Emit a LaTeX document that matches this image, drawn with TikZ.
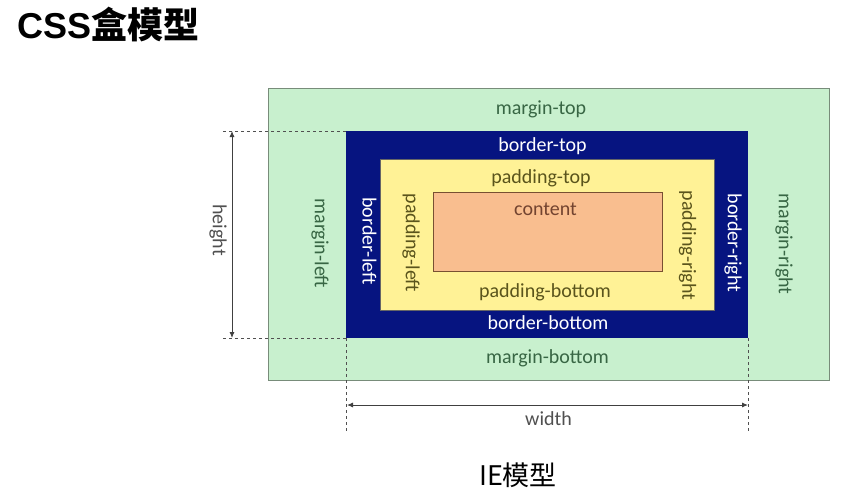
\documentclass[tikz,border=0pt]{standalone}
\usepackage{fontspec}
\setmainfont{Carlito}
\newfontfamily\cjkfont{Noto Sans CJK SC}
\newfontfamily\titlelatin{Liberation Sans}
\usetikzlibrary{arrows.meta}

\definecolor{marginfill}{RGB}{200,240,206}
\definecolor{marginline}{RGB}{120,140,122}
\definecolor{margintext}{RGB}{56,102,68}
\definecolor{bordernavy}{RGB}{6,20,128}
\definecolor{paddingfill}{RGB}{255,242,150}
\definecolor{paddingtext}{RGB}{90,84,28}
\definecolor{contentfill}{RGB}{249,190,143}
\definecolor{contentline}{RGB}{120,80,50}
\definecolor{contenttext}{RGB}{115,68,48}
\definecolor{dimgray}{RGB}{80,80,80}

\tikzset{
  lbl/.style={font=\fontsize{20}{22}\selectfont, inner sep=0pt},
  mlbl/.style={lbl, text=margintext},
  blbl/.style={lbl, text=white},
  plbl/.style={lbl, text=paddingtext},
  clbl/.style={lbl, text=contenttext},
  dimlbl/.style={lbl, text=dimgray},
  guide/.style={dimgray, line width=0.9pt, dash pattern=on 3pt off 3pt},
  dimarrow/.style={black!75, line width=0.9pt, {Latex[length=6pt,width=5pt]}-{Latex[length=6pt,width=5pt]}},
}

\begin{document}
\begin{tikzpicture}[x=1pt,y=-1pt]
\useasboundingbox[fill=white] (0,0) rectangle (853,498);

% box corners
\coordinate (mTL) at (268,88);  \coordinate (mBR) at (829,380);
\coordinate (bTL) at (346,131); \coordinate (bBR) at (748,338);
\coordinate (bTR) at (748,131); \coordinate (bBL) at (346,338);
\coordinate (pTL) at (380,159); \coordinate (pBR) at (714,310);
\coordinate (cTL) at (433,192); \coordinate (cBR) at (662,271);

% nested boxes
\draw[fill=marginfill, draw=marginline, line width=1pt] (mTL) rectangle (mBR);
\fill[bordernavy] (bTL) rectangle (bBR);
\draw[fill=paddingfill, draw=black!60, line width=0.6pt] (pTL) rectangle (pBR);
\draw[fill=contentfill, draw=contentline, line width=1pt] (cTL) rectangle (cBR);

% guide lines for dimensions
\coordinate (hTop) at (223,131);
\coordinate (hBot) at (223,338);
\coordinate (wL) at (346,432);
\coordinate (wR) at (748,432);
\draw[guide] (hTop) -- (bTL);
\draw[guide] (hBot) -- (bBL);
\draw[guide] (bBL) -- (wL);
\draw[guide] (bBR) -- (wR);

% dimension arrows
\coordinate (hA) at (232,131);
\coordinate (hB) at (232,338);
\coordinate (wA) at (347,405);
\coordinate (wB) at (748,405);
\draw[dimarrow] (hA) -- (hB);
\draw[dimarrow] (wA) -- (wB);
\node[dimlbl, rotate=-90] (height) at (218,230) {height};
\node[dimlbl, anchor=base] (width) at (548.5,425) {width};

% margin labels
\node[mlbl, anchor=base] (mt) at (541,114) {margin-top};
\node[mlbl, anchor=base] (mb) at (547.5,363) {margin-bottom};
\node[mlbl, rotate=-90] (ml) at (320,243.5) {margin-left};
\node[mlbl, rotate=-90] (mr) at (784,244) {margin-right};

% border labels
\node[blbl, anchor=base] (bt) at (542.5,151) {border-top};
\node[blbl, anchor=base] (bb) at (548,329) {border-bottom};
\node[blbl, rotate=-90] (bl) at (369.5,241) {border-left};
\node[blbl, rotate=-90] (br) at (733,243) {border-right};

% padding labels
\node[plbl, anchor=base] (pt) at (541,183) {padding-top};
\node[plbl, anchor=base] (pb) at (545,297) {padding-bottom};
\node[plbl, rotate=-90] (pl) at (411,243) {padding-left};
\node[plbl, rotate=-90] (pr) at (687.5,245.5) {padding-right};

% content label
\node[clbl, anchor=base] (ct) at (545.5,215) {content};

% headings
\node[anchor=west, inner sep=0pt, font=\fontsize{36}{40}\selectfont] (title) at (17,24)
  {{\titlelatin\bfseries CSS}{\cjkfont\bfseries 盒模型}};
\node[inner sep=0pt, font=\fontsize{27}{30}\selectfont\cjkfont] (caption) at (518,475) {IE模型};
\end{tikzpicture}
\end{document}
